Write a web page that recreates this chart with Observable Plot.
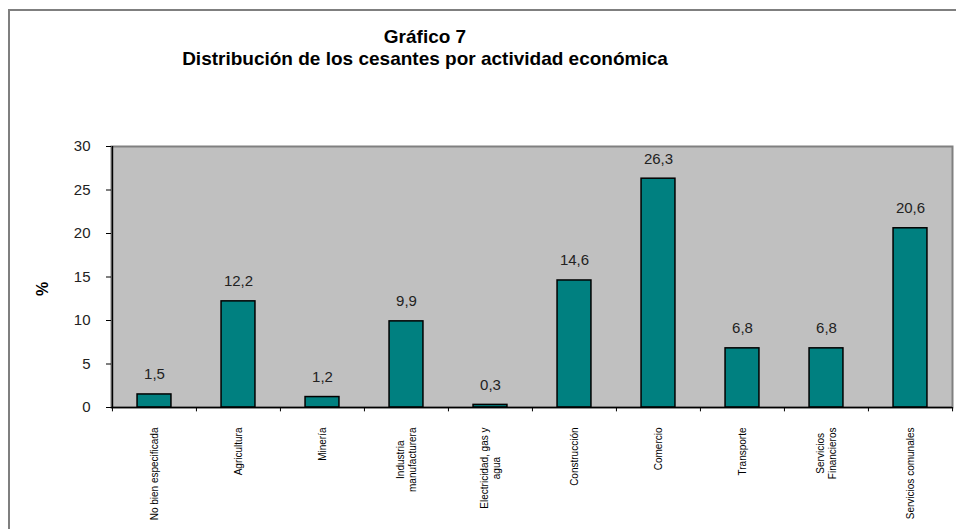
<!DOCTYPE html>
<html><head><meta charset="utf-8">
<script src="https://cdn.jsdelivr.net/npm/d3@7"></script>
<script src="https://cdn.jsdelivr.net/npm/@observablehq/plot@0.6"></script>
<style>
body{margin:0;background:#fff;}
#wrap{position:relative;width:956px;height:529px;overflow:hidden;font-family:"Liberation Sans",Arial,sans-serif;}
#border{position:absolute;left:8px;top:9px;width:960px;height:530px;border-left:2px solid #7f7f7f;border-top:2px solid #7f7f7f;}
.t{position:absolute;left:0;top:26px;width:850px;text-align:center;font-weight:bold;font-size:19px;color:#000;line-height:22px;}
#chart{position:absolute;left:0;top:0;}
</style></head><body>
<div id="wrap"><div id="border"></div>
<div class="t">Gráfico 7<br>Distribución de los cesantes por actividad económica</div>
<div id="chart"></div></div>
<script>
const categories = ["No bien especificada","Agricultura","Minería","Industria manufacturera","Electricidad, gas y agua","Construcción","Comercio","Transporte","Servicios Financieros","Servicios comunales"];
const xLabels = ["No bien especificada","Agricultura","Minería","Industria\nmanufacturera","Electricidad, gas y\nagua","Construcción","Comercio","Transporte","Servicios\nFinancieros","Servicios comunales"];
const values = [1.5,12.2,1.2,9.9,0.3,14.6,26.3,6.8,6.8,20.6];
const yTicks = [0,5,10,15,20,25,30];
const yDomain = [0,30];
const yLabel = "%";

const data = categories.map((c,i)=>({cat:c,label:xLabels[i],value:values[i]}));
const W=956,H=529,mL=111,mR=4,mT=146,mB=122;
const step=(W-mL-mR)/categories.length;
const barW=34, inset=(step-barW)/2;
const FONT="Liberation Sans, Arial, sans-serif";
const ctx=document.createElement("canvas").getContext("2d");
ctx.font="10px "+FONT;
const fmt=v=>v.toFixed(1).replace(".",",");

const labelMarks = xLabels.map((lab,i)=>{
  const w=Math.max(...lab.split("\n").map(s=>ctx.measureText(s).width));
  return Plot.text([categories[i]],{x:d=>d,text:()=>lab,frameAnchor:"bottom",dy:20+w/2,rotate:-90,textAnchor:"middle",lineAnchor:"middle",lineHeight:1.2,fontSize:10,fill:"#000"});
});

const chart = Plot.plot({
  width:W,height:H,marginLeft:mL,marginRight:mR,marginTop:mT,marginBottom:mB,
  style:{background:"transparent",fontFamily:FONT,color:"#000",overflow:"visible"},
  x:{domain:categories,padding:0,axis:null},
  y:{domain:yDomain,axis:null},
  marks:[
    Plot.frame({fill:"#c0c0c0",stroke:"#808080",strokeWidth:2}),
    Plot.barY(data,{x:"cat",y:"value",fill:"#008080",stroke:"#000",strokeWidth:1.5,insetLeft:inset,insetRight:inset}),
    Plot.text(data,{x:"cat",y:"value",text:d=>fmt(d.value),dy:-15,lineAnchor:"bottom",fontSize:15,fill:"#222"}),
    Plot.ruleY([yDomain[0]],{stroke:"#000",strokeWidth:1.5}),
    Plot.ruleX([categories[0]],{x:d=>d,dx:-step/2,stroke:"#000",strokeWidth:1.5}),
    Plot.ruleX(categories,{x:d=>d,dx:-step/2,y1:0,y2:-0.5,stroke:"#000"}),
    Plot.ruleX([categories[categories.length-1]],{x:d=>d,dx:step/2,y1:0,y2:-0.5,stroke:"#000"}),
    Plot.axisY(yTicks,{tickSize:5,tickPadding:16,fontSize:15,stroke:"#000",fill:"#222",label:null}),
    Plot.text([yLabel],{frameAnchor:"left",dx:-69,dy:19,rotate:-90,fontWeight:"bold",fontSize:16,fill:"#000"}),
    ...labelMarks
  ]
});
document.getElementById("chart").appendChild(chart);
</script></body></html>
